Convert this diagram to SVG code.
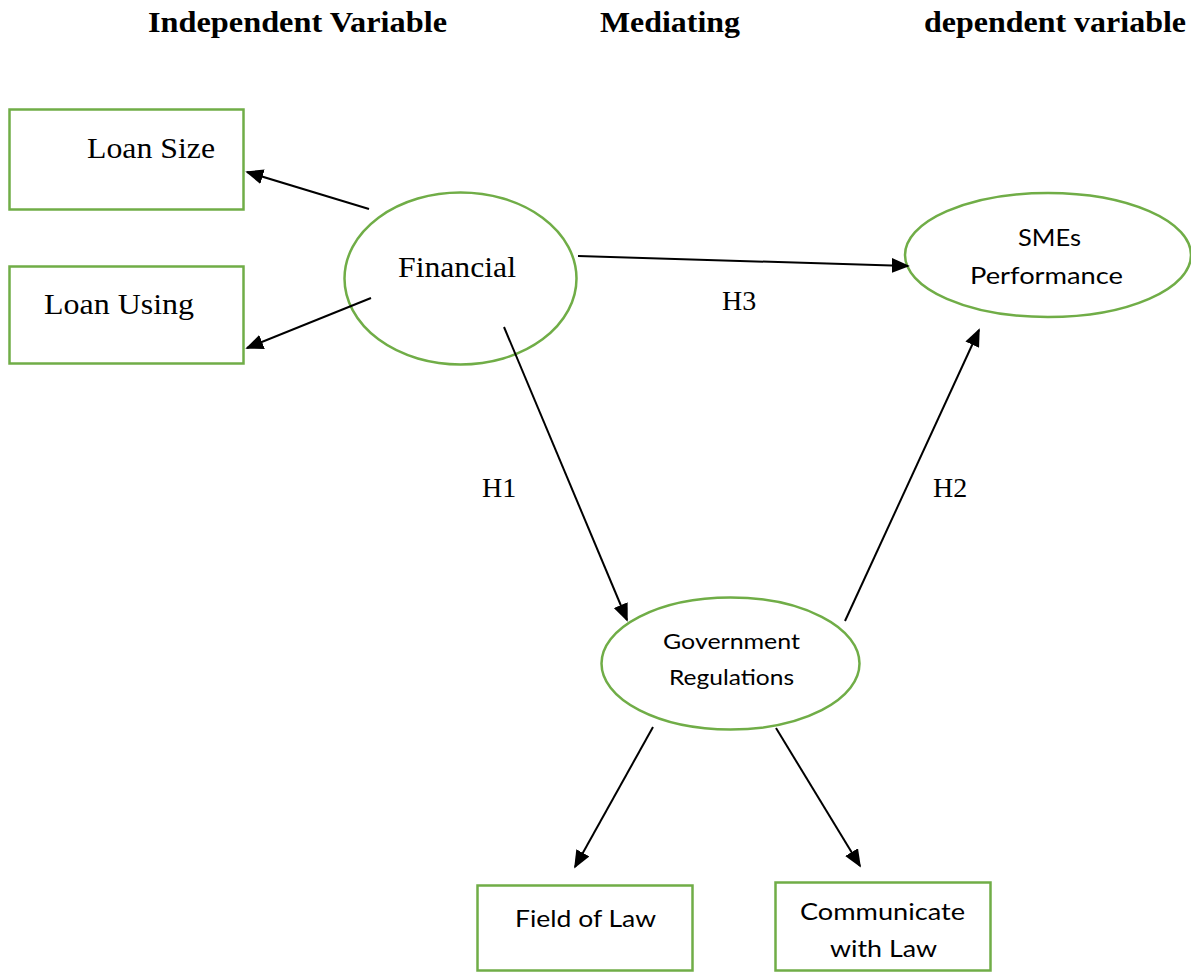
<svg xmlns="http://www.w3.org/2000/svg" width="1191" height="973" viewBox="0 0 1191 973">
<defs>
<marker id="ah" viewBox="0 0 10 10" refX="9" refY="5" markerWidth="9" markerHeight="7.5" markerUnits="strokeWidth" orient="auto" preserveAspectRatio="none">
<path d="M0,0 L10,5 L0,10 Z" fill="#000"/>
</marker>
<style>
.box{fill:#fff;stroke:#70ad47;stroke-width:2.5}
.ell{fill:#fff;stroke:#70ad47;stroke-width:2.5}
.serif{font-family:"Liberation Serif","Times New Roman",serif;fill:#000}
.sans{font-family:Lato,"Liberation Sans",Arial,sans-serif;fill:#000}
.title{font-family:"Liberation Serif","Times New Roman",serif;font-weight:bold;font-size:29px;fill:#000}
.conn line{stroke:#000;stroke-width:2;marker-end:url(#ah)}
</style>
</defs>
<rect width="1191" height="973" fill="#fff"/>
<g id="titles">
<text class="title" x="148" y="32" textLength="299" lengthAdjust="spacingAndGlyphs">Independent Variable</text>
<text class="title" x="600" y="32" textLength="140" lengthAdjust="spacingAndGlyphs">Mediating</text>
<text class="title" x="924" y="32" textLength="262" lengthAdjust="spacingAndGlyphs">dependent variable</text>
</g>
<g id="loan-size">
<rect class="box" x="9.5" y="109.5" width="234" height="100"/>
<text class="serif" x="87" y="158" font-size="29" textLength="128" lengthAdjust="spacingAndGlyphs">Loan Size</text>
</g>
<g id="loan-using">
<rect class="box" x="9.5" y="266.5" width="234" height="97"/>
<text class="serif" x="44" y="314" font-size="29" textLength="150" lengthAdjust="spacingAndGlyphs">Loan Using</text>
</g>
<g id="financial">
<ellipse class="ell" cx="460.5" cy="278.5" rx="116" ry="86"/>
<text class="serif" x="398" y="277" font-size="29" textLength="118" lengthAdjust="spacingAndGlyphs">Financial</text>
</g>
<g id="smes-performance">
<ellipse class="ell" cx="1048" cy="255" rx="143" ry="62"/>
<text class="sans" x="1049.5" y="246" font-size="24" text-anchor="middle" textLength="63" lengthAdjust="spacingAndGlyphs">SMEs</text>
<text class="sans" x="1046.5" y="284" font-size="24" text-anchor="middle" textLength="153" lengthAdjust="spacingAndGlyphs">Performance</text>
</g>
<g id="government-regulations">
<ellipse class="ell" cx="730.5" cy="663.5" rx="129" ry="66"/>
<text class="sans" x="731.5" y="649" font-size="22" text-anchor="middle" textLength="137" lengthAdjust="spacingAndGlyphs">Government</text>
<text class="sans" x="731.5" y="685" font-size="22" text-anchor="middle" textLength="125" lengthAdjust="spacingAndGlyphs">Regulations</text>
</g>
<g id="field-of-law">
<rect class="box" x="477.5" y="885.5" width="215" height="85"/>
<text class="sans" x="585.5" y="927" font-size="23" text-anchor="middle" textLength="141" lengthAdjust="spacingAndGlyphs">Field of Law</text>
</g>
<g id="communicate-with-law">
<rect class="box" x="775.5" y="882.5" width="215" height="88"/>
<text class="sans" x="882.5" y="920" font-size="23" text-anchor="middle" textLength="165" lengthAdjust="spacingAndGlyphs">Communicate</text>
<text class="sans" x="883.5" y="957" font-size="23" text-anchor="middle" textLength="107" lengthAdjust="spacingAndGlyphs">with Law</text>
</g>
<g id="connectors" class="conn">
<line x1="369" y1="209" x2="247" y2="172"/>
<line x1="371" y1="298" x2="247" y2="348"/>
<line x1="578" y1="256" x2="908" y2="266"/>
<line x1="504" y1="327" x2="627" y2="620"/>
<line x1="845" y1="621" x2="979" y2="330"/>
<line x1="653" y1="727" x2="575" y2="867"/>
<line x1="776" y1="728" x2="860" y2="866"/>
</g>
<g id="labels">
<text class="serif" x="722" y="310" font-size="28">H3</text>
<text class="serif" x="482" y="497" font-size="28">H1</text>
<text class="serif" x="933" y="497" font-size="28">H2</text>
</g>
</svg>
